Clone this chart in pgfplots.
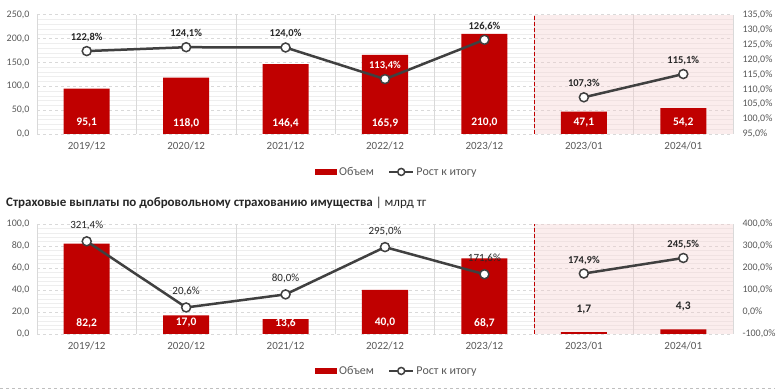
\documentclass[border=0pt]{standalone}
\usepackage{fontspec}
\setmainfont{Carlito}
\usepackage{pgfplots}
\pgfplotsset{compat=1.18}
\definecolor{barred}{HTML}{C00000}
\definecolor{linegray}{HTML}{404040}
\definecolor{tickgray}{HTML}{595959}
\definecolor{gridgray}{HTML}{D9D9D9}
\definecolor{minorgray}{HTML}{EEEEEE}
\definecolor{pinkbg}{HTML}{F4CCCC}
\pgfplotsset{
  base/.style={
    scale only axis, width=696pt,
    xmin=-0.5, xmax=6.5,
    axis line style={draw=none},
    major tick length=0pt, minor tick length=0pt,
    tick style={draw=none},
    ticklabel style={font=\fontsize{10}{12}\selectfont, text=tickgray},
    /pgf/number format/assume math mode=true,
  },
  barax/.style={
    base,
    xtick={0,...,6},
    xticklabels={2019/12,2020/12,2021/12,2022/12,2023/12,2023/01,2024/01},
    xticklabel style={yshift=-4pt, font=\fontsize{11}{13}\selectfont},
    extra x ticks={-0.5,0.5,...,6.5},
    extra x tick labels={},
    extra x tick style={grid=major, major grid style={draw=gridgray, solid, line width=0.6pt}},
    ymajorgrids, yminorgrids, minor y tick num=4,
    major grid style={draw=gridgray, dashed, line width=0.6pt},
    minor grid style={draw=minorgray, line width=0.5pt},
    yticklabel style={xshift=-4pt, /pgf/number format/.cd, fixed, fixed zerofill, precision=1, use comma, 1000 sep={}},
    legend columns=2,
    legend style={draw=none, fill=none, font=\fontsize{12}{14}\selectfont, text=tickgray,
      /tikz/every even column/.append style={column sep=12pt}},
  },
  lineax/.style={
    base,
    axis y line*=right,
    xtick=\empty,
    axis x line=none,
    yticklabel style={xshift=6pt},
  },
  barstyle/.style={ybar, bar width=46pt, fill=barred, draw=none},
  linestyle/.style={draw=linegray, line width=2.5pt, mark=*, mark size=4.5pt,
    mark options={fill=white, draw=linegray, line width=1.5pt, solid},
    nodes near coords, point meta=explicit symbolic,
    every node near coord/.append style={font=\bfseries\fontsize{10.5}{12}\selectfont, text=black!85, anchor=south, yshift=5pt}},
  barlab/.style={draw=none, mark=none, nodes near coords, point meta=explicit symbolic,
    every node near coord/.append style={font=\bfseries\fontsize{11.5}{13}\selectfont, text=white, anchor=center, yshift=11pt}},
  legbar/.style={legend image code/.code={\fill[barred] (0pt,-3pt) rectangle (22pt,3pt);}},
  legline/.style={legend image code/.code={\draw[linegray, line width=2.5pt] (0pt,0pt) -- (24pt,0pt); \draw[linegray, line width=1.5pt, fill=white] (12pt,0pt) circle (3.5pt);}},
}
\begin{document}
\begin{tikzpicture}
\path[use as bounding box] (0pt,0pt) rectangle (780pt,390pt);
% ---------- top chart ----------
\begin{axis}[barax, at={(37pt,256pt)}, anchor=south west, height=119.3pt,
  ymin=0, ymax=250, ytick distance=50,
  legend style={at={(0.517,-0.318)}, anchor=center}]
\fill[pinkbg, fill opacity=0.35] (axis cs:4.5,0) rectangle (axis cs:6.5,250);
\draw[barred, dashed, line width=0.8pt, dash pattern=on 4pt off 2pt] (axis cs:4.5,0) -- (axis cs:4.5,250);
\addplot[barstyle, legbar] coordinates {(0,95.1) (1,118.0) (2,146.4) (3,165.9) (4,210.0) (5,47.1) (6,54.2)};
\addlegendentry{Объем}
\addlegendimage{legline}
\addlegendentry{Рост к итогу}
\addplot[barlab, forget plot] coordinates {(0,0)[95,1] (1,0)[118,0] (2,0)[146,4] (3,0)[165,9] (4,0)[210,0] (5,0)[47,1] (6,0)[54,2]};
\end{axis}
\begin{axis}[lineax, at={(37pt,256pt)}, anchor=south west, height=119.3pt,
  ymin=95, ymax=135, ytick distance=5,
  yticklabel={\pgfmathprintnumber[fixed, fixed zerofill, precision=1, use comma]{\tick}\%}]
\addplot[linestyle] coordinates {(0,122.8)[122,8\%] (1,124.1)[124,1\%] (2,124.0)[124,0\%] (3,113.4)[\textcolor{white}{113,4\%}] (4,126.6)[126,6\%]};
\addplot[linestyle] coordinates {(5,107.3)[107,3\%] (6,115.1)[115,1\%]};
\end{axis}
% ---------- title ----------
\node[anchor=west, inner sep=0pt, text=black!85] at (6pt,187pt) {\fontsize{13}{15}\selectfont\textbf{Страховые выплаты по добровольному страхованию имущества} | млрд тг};
% ---------- bottom chart ----------
\begin{axis}[barax, at={(37pt,56pt)}, anchor=south west, height=110pt,
  ymin=0, ymax=100, ytick distance=20,
  legend style={at={(0.517,-0.336)}, anchor=center}]
\fill[pinkbg, fill opacity=0.35] (axis cs:4.5,0) rectangle (axis cs:6.5,100);
\draw[barred, dashed, line width=0.8pt, dash pattern=on 4pt off 2pt] (axis cs:4.5,0) -- (axis cs:4.5,100);
\addplot[barstyle, legbar] coordinates {(0,82.2) (1,17.0) (2,13.6) (3,40.0) (4,68.7) (5,1.7) (6,4.3)};
\addlegendentry{Объем}
\addlegendimage{legline}
\addlegendentry{Рост к итогу}
\addplot[barlab, forget plot] coordinates {(0,0)[82,2] (1,0)[17,0] (2,0)[13,6] (3,0)[40,0] (4,0)[68,7]};
\addplot[barlab, forget plot, every node near coord/.append style={text=black!85, anchor=south, yshift=4pt}] coordinates {(5,1.7)[1,7] (6,4.3)[4,3]};
\end{axis}
\begin{axis}[lineax, at={(37pt,56pt)}, anchor=south west, height=110pt,
  ymin=-100, ymax=400, ytick distance=100,
  yticklabel={\pgfmathprintnumber[fixed, fixed zerofill, precision=1, use comma]{\tick}\%}]
\addplot[linestyle, every node near coord/.append style={font=\fontsize{11}{13}\selectfont, yshift=2pt}] coordinates {(0,321.4)[321,4\%] (1,20.6)[20,6\%] (2,80.0)[80,0\%] (3,295.0)[295,0\%] (4,171.6)[171,6\%]};
\addplot[linestyle] coordinates {(5,174.9)[174,9\%] (6,245.5)[245,5\%]};
\end{axis}
\draw[gray!50, dashed, line width=0.6pt] (0pt,1.5pt) -- (775pt,1.5pt);
\end{tikzpicture}
\end{document}
